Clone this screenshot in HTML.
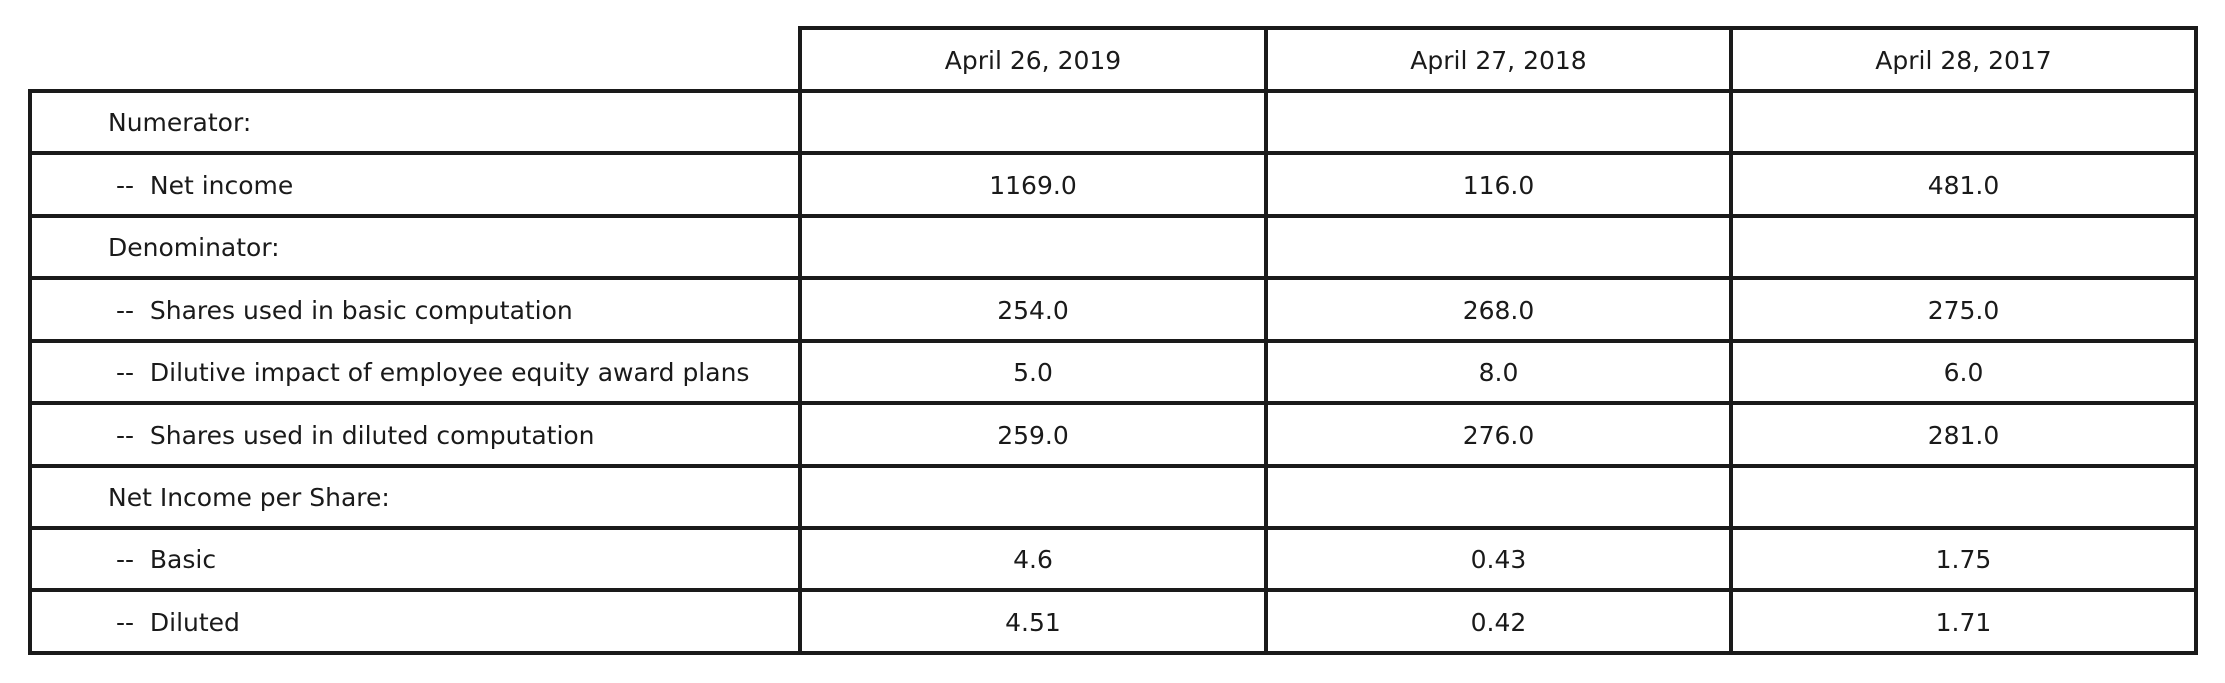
<!DOCTYPE html>
<html><head><meta charset="utf-8"><style>
body{margin:0;width:2225px;height:683px;background:#fff;position:relative;overflow:hidden;font-family:"DejaVu Sans","Liberation Sans",sans-serif;color:#1a1a1a}
.c{position:absolute;box-sizing:border-box;border:4px solid #1a1a1a;font-size:25px;display:flex;align-items:center;white-space:pre;padding-top:1px}
.n{justify-content:center}
</style></head><body>
<div id="t"></div>
<script>
const headers=["April 26, 2019","April 27, 2018","April 28, 2017"];
const labels=["Numerator:"," --  Net income","Denominator:"," --  Shares used in basic computation"," --  Dilutive impact of employee equity award plans"," --  Shares used in diluted computation","Net Income per Share:"," --  Basic"," --  Diluted"];
const col2019=["","1169.0","","254.0","5.0","259.0","","4.6","4.51"];
const col2018=["","116.0","","268.0","8.0","276.0","","0.43","0.42"];
const col2017=["","481.0","","275.0","6.0","281.0","","1.75","1.71"];
const xs=[30,800,1266,1731,2196];
const ys=[28,91,153,216,278,341,403,466,528,590,653];
const t=document.getElementById('t');
function cell(x0,x1,y0,y1,txt,cls,name){
 const d=document.createElement('div');
 d.className='c '+cls;
 d.style.left=(x0-2)+'px';d.style.top=(y0-2)+'px';
 d.style.width=(x1-x0+4)+'px';d.style.height=(y1-y0+4)+'px';
 if(cls==='') d.style.paddingLeft='76px';
 d.textContent=txt;
 
 
 t.appendChild(d);
}
headers.forEach((h,i)=>cell(xs[i+1],xs[i+2],ys[0],ys[1],h,'n','header-'+h.slice(-4)));
const cols=[col2019,col2018,col2017];
labels.forEach((l,r)=>{
 cell(xs[0],xs[1],ys[r+1],ys[r+2],l,'','row-label');
 cols.forEach((c,i)=>cell(xs[i+1],xs[i+2],ys[r+1],ys[r+2],c[r],'n','value-cell'));
});
</script>
</body></html>
